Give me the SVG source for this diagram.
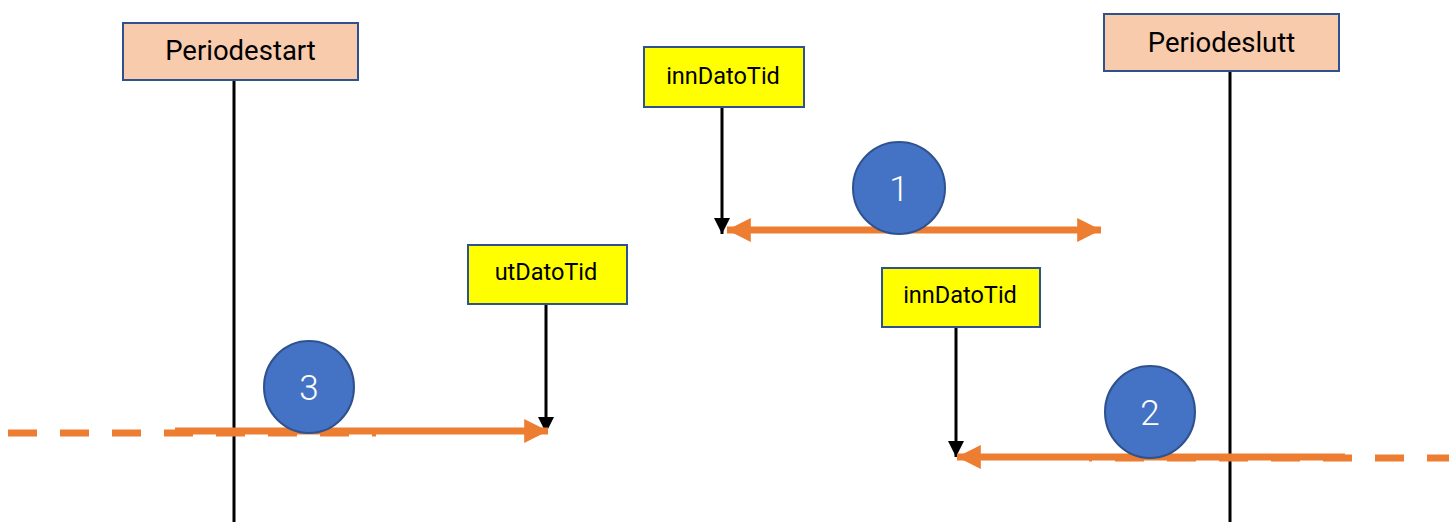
<svg xmlns="http://www.w3.org/2000/svg" width="1449" height="522" viewBox="0 0 1449 522">
<style>
.period{fill:#F8CBAD;stroke:#2F528F;stroke-width:2}
.date{fill:#FFFF00;stroke:#2F528F;stroke-width:2}
.ptxt{font-family:Roboto,"Liberation Sans",sans-serif;font-size:27.5px;fill:#000;text-anchor:middle}
.dtxt{font-family:Roboto,"Liberation Sans",sans-serif;font-size:23.5px;fill:#000;text-anchor:middle}
.circ{fill:#4472C4;stroke:#2F528F;stroke-width:2}
.ctxt{font-family:Roboto,"Liberation Sans",sans-serif;font-size:35px;fill:#fff;text-anchor:middle;font-weight:300}
.vline{stroke:#000;stroke-width:3;fill:none}
.orange{stroke:#ED7D31;stroke-width:7;fill:none}
.odash{stroke:#ED7D31;stroke-width:7;fill:none;stroke-dasharray:29 23}
</style>
<defs>
<marker id="blk" viewBox="0 0 10 10" refX="10" refY="5" markerWidth="16" markerHeight="16" markerUnits="userSpaceOnUse" orient="auto">
<path d="M0,0 L10,5 L0,10 z" fill="#000"/>
</marker>
<marker id="org" viewBox="0 0 10 10" refX="10" refY="5" markerWidth="3.4" markerHeight="3.4" markerUnits="strokeWidth" orient="auto-start-reverse">
<path d="M0,0 L10,5 L0,10 z" fill="#ED7D31"/>
</marker>
</defs>
<g id="connectors">
<line class="vline" x1="234" y1="80" x2="234" y2="522"/>
<line class="vline" x1="1230" y1="71" x2="1230" y2="522"/>
<line class="vline" x1="722" y1="107" x2="722" y2="234" marker-end="url(#blk)"/>
<line class="vline" x1="546" y1="304" x2="546" y2="433" marker-end="url(#blk)"/>
<line class="vline" x1="956" y1="327" x2="956" y2="457" marker-end="url(#blk)"/>
<line class="orange" x1="727" y1="230" x2="1101" y2="230" marker-start="url(#org)" marker-end="url(#org)"/>
<line class="odash" x1="8" y1="433" x2="376" y2="433"/>
<line class="orange" x1="175" y1="431" x2="548" y2="431" marker-end="url(#org)"/>
<line class="odash" x1="1449" y1="458" x2="1089" y2="458" style="stroke-dashoffset:7"/>
<line class="orange" x1="1345" y1="457" x2="957" y2="457" marker-end="url(#org)"/>
</g>
<g id="periodestart">
<rect class="period" x="123" y="23" width="235" height="57"/>
<text class="ptxt" x="240.5" y="60">Periodestart</text>
</g>
<g id="periodeslutt">
<rect class="period" x="1104" y="14" width="235" height="57"/>
<text class="ptxt" x="1221.5" y="52">Periodeslutt</text>
</g>
<g id="innDatoTid1">
<rect class="date" x="644" y="47" width="160" height="60"/>
<text class="dtxt" x="723" y="84">innDatoTid</text>
</g>
<g id="utDatoTid">
<rect class="date" x="468" y="245" width="159" height="59"/>
<text class="dtxt" x="546" y="280">utDatoTid</text>
</g>
<g id="innDatoTid2">
<rect class="date" x="882" y="268" width="158" height="59"/>
<text class="dtxt" x="960" y="303">innDatoTid</text>
</g>
<g id="c1">
<circle class="circ" cx="899" cy="188" r="46"/>
<text class="ctxt" x="899" y="201">1</text>
</g>
<g id="c3">
<ellipse class="circ" cx="309" cy="387" rx="45" ry="46"/>
<text class="ctxt" x="309" y="400">3</text>
</g>
<g id="c2">
<ellipse class="circ" cx="1150" cy="412" rx="45" ry="46"/>
<text class="ctxt" x="1150" y="425">2</text>
</g>
</svg>
